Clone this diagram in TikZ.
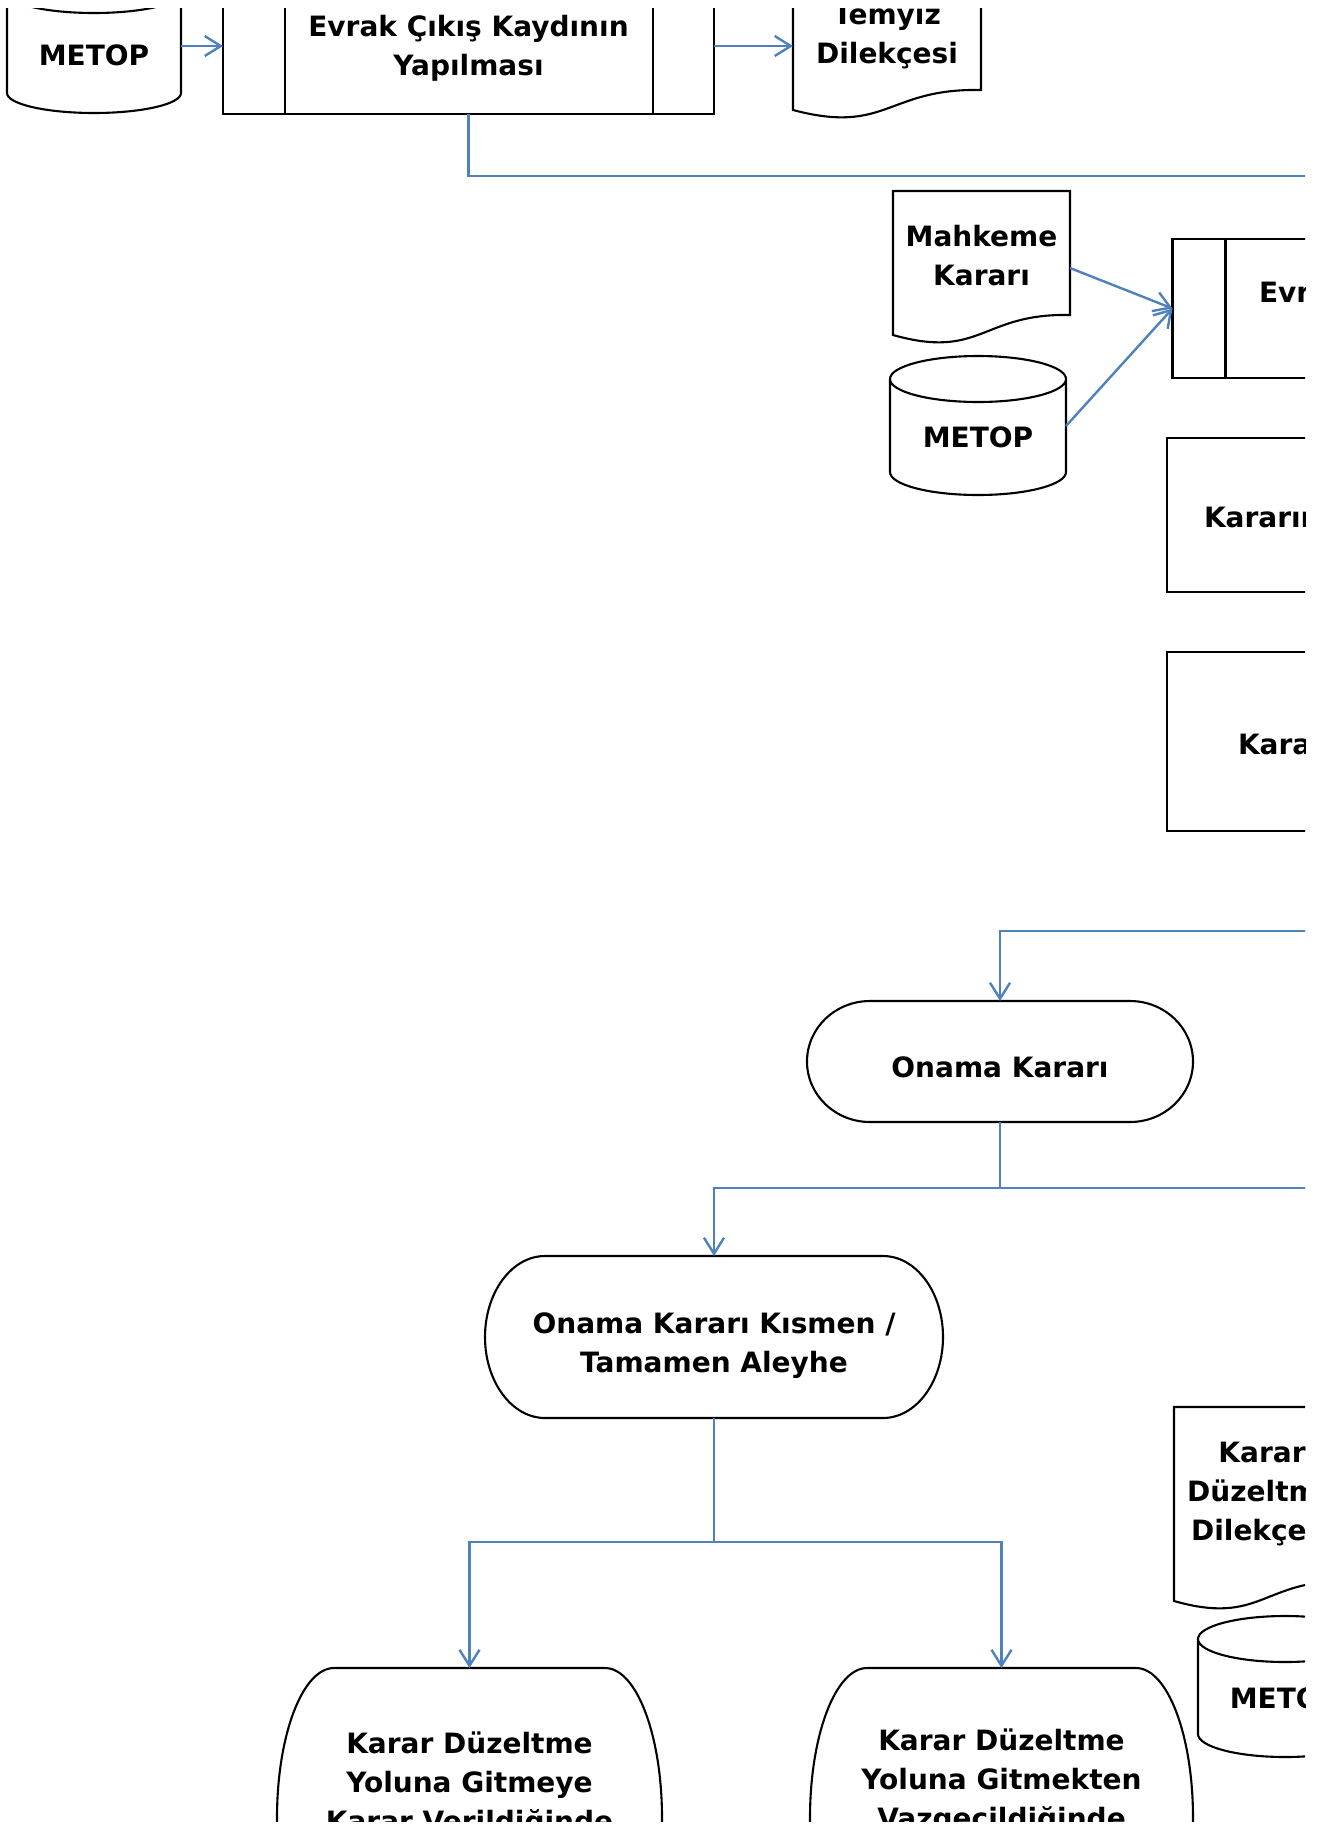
\documentclass[tikz,border=0pt]{standalone}
\usepackage{fontspec}
\setmainfont{DejaVu Sans}
\usepackage{xcolor}
\usetikzlibrary{arrows.meta, calc, positioning}
\definecolor{flowblue}{HTML}{4F81BD}
\newcommand\lift[1]{\rule{0pt}{#1}}

\begin{document}
\begin{tikzpicture}[
    x=1pt, y=-1pt,
    shapeline/.style={draw=black, line width=2.1pt},
    txt/.style={font=\fontsize{28}{39}\selectfont\bfseries,
        align=center, inner sep=0pt, outer sep=0pt},
    lower/.style={execute at begin node={\rule{0pt}{#1}}},
    procbox/.style={txt, rectangle, shapeline},
    plain/.style={txt, rectangle, draw=none},
    link/.style={draw=flowblue, line width=2.4pt},
    arr/.style={link, -{Straight Barb[length=16pt, width=20pt]}}
]
\useasboundingbox (0,0) rectangle (1323,1829);
\begin{scope}
\clip (0,8) rectangle (1305,1821);

% top row
\node[plain, lower=25.8pt, minimum width=174pt, minimum height=120pt] (metopa) at (94,53) {METOP};
\node[procbox, minimum width=491pt, minimum height=136pt] (cikis) at (468.5,46)
    {\lift{26.3pt}Evrak Çıkış Kaydının\\Yapılması};
\node[plain, minimum width=188pt, minimum height=112pt] (temyiz) at (887,34)
    {\lift{26.3pt}Temyiz\\Dilekçesi};

% inputs of the right column
\node[plain, minimum width=177pt, minimum height=124pt] (mahkeme) at (981.5,253)
    {\lift{26.3pt}Mahkeme\\Kararı};
\node[plain, minimum width=176pt, minimum height=116pt] (metopb) at (978,437) {METOP};
\node[procbox, minimum width=491pt, minimum height=139pt] (girisk) at (1418,308.5)
    {\lift{33.3pt}Evrak Giriş Kaydının\\Yapılması};
\node[procbox, lower=25.8pt, text width=417pt, inner xsep=37pt, align=left,
      minimum height=154pt] (kararin) at (1412.5,515) {Kararın};
\node[procbox, lower=25.8pt, text width=349pt, inner xsep=71pt, align=left,
      minimum height=179pt] (karar) at (1412.5,741.5) {Karar};

% decisions
\node[plain, lower=32.8pt, minimum width=386pt, minimum height=121pt] (onama) at (1000,1061.5)
    {Onama Kararı};
\node[plain, minimum width=458pt, minimum height=162pt] (kismen) at (714,1337)
    {\lift{37.3pt}Onama Kararı Kısmen /\\Tamamen Aleyhe};
\node[plain, minimum width=385pt, minimum height=226pt] (gitmeye) at (469.5,1781)
    {\lift{28.3pt}Karar Düzeltme\\Yoluna Gitmeye\\Karar Verildiğinde};
\node[plain, minimum width=383pt, minimum height=222pt] (vazgec) at (1001.5,1779)
    {\lift{26.3pt}Karar Düzeltme\\Yoluna Gitmekten\\Vazgeçildiğinde};
\node[plain, minimum width=176pt, minimum height=174pt] (dilekce) at (1262,1494)
    {Karar\\Düzeltme\\Dilekçesi};
\node[plain, minimum width=174pt, minimum height=118pt] (metopc) at (1285,1698) {METOP};

% outlines
\foreach \nm/\dl/\dr in {cikis/62pt/61pt, girisk/53pt/53pt}
  \draw[shapeline] ([xshift=\dl]\nm.north west) -- ([xshift=\dl]\nm.south west)
                   ([xshift=-\dr]\nm.north east) -- ([xshift=-\dr]\nm.south east);

\foreach \nm in {temyiz, mahkeme, dilekce}
  \draw[shapeline] let \p1=(\nm.north west), \p2=(\nm.south east) in
    (\x1,\y2-20pt) -- (\x1,\y1) -- (\x2,\y1) -- (\x2,\y2)
    .. controls ({0.5*\x1+0.5*\x2},\y2+2pt) and ({0.5*\x1+0.5*\x2},\y2-45pt)
    .. (\x1,\y2-20pt) -- cycle;

\foreach \nm/\rx/\ry in {metopa/87pt/20pt, metopb/88pt/23pt, metopc/87pt/23pt}
  \draw[shapeline] let \p1=(\nm.north west), \p2=(\nm.south east), \p3=(\nm.south) in
    (\x3,\y1) ellipse [x radius=\rx, y radius=\ry]
    (\x1,\y1) -- (\x1,\y2+\ry)
    .. controls (\x1,\y2+0.448*\ry) and (\x3-0.552*\rx,\y2) .. (\x3,\y2)
    .. controls (\x3+0.552*\rx,\y2) and (\x2,\y2+0.448*\ry) .. (\x2,\y2+\ry)
    -- (\x2,\y1);

\foreach \nm/\rx/\ry in {onama/63pt/60.5pt, kismen/60pt/81pt,
                         gitmeye/57pt/150pt, vazgec/57pt/150pt}
  \draw[shapeline] let \p1=(\nm.north west), \p2=(\nm.north east) in
    (\x1+\rx,\y1) -- (\x2-\rx,\y1)
    .. controls (\x2-0.448*\rx,\y1) and (\x2,\y1-0.448*\ry) .. (\x2,\y1-\ry)
    .. controls (\x2,\y1-1.552*\ry) and (\x2-0.448*\rx,\y1-2*\ry) .. (\x2-\rx,\y1-2*\ry)
    -- (\x1+\rx,\y1-2*\ry)
    .. controls (\x1+0.448*\rx,\y1-2*\ry) and (\x1,\y1-1.552*\ry) .. (\x1,\y1-\ry)
    .. controls (\x1,\y1-0.448*\ry) and (\x1+0.448*\rx,\y1) .. cycle;

% connectors
\coordinate (offa) at (1340,176);
\coordinate (offb) at (1340,931);
\coordinate (offc) at (1340,1188);
\coordinate (jA) at (1000,1188);
\coordinate (jB) at (714,1542);

\draw[arr] (metopa.east |- cikis.west) -- (cikis.west);
\draw[arr] (cikis.east) -- (cikis.east -| temyiz.west);
\draw[link] (cikis.south) |- (offa);
\draw[arr] ([yshift=-15pt]mahkeme.east) -- (girisk.west);
\draw[arr] ([yshift=11pt]metopb.east) -- (girisk.west);
\draw[arr] (offb) -| (onama.north);
\draw[arr] (onama.south) -- (jA) -| (kismen.north);
\draw[link] (jA) -- (offc);
\draw[arr] (kismen.south) -- (jB) -| (gitmeye.north);
\draw[arr] (jB) -| (vazgec.north);
\end{scope}
\end{tikzpicture}
\end{document}
